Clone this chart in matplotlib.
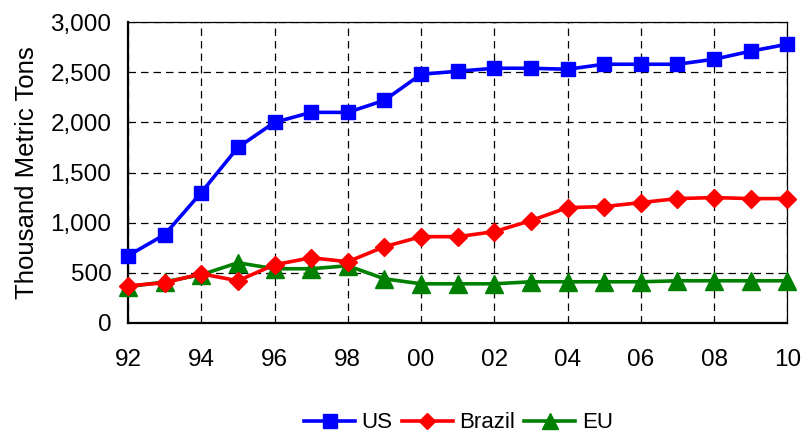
import matplotlib
matplotlib.use("Agg")
import matplotlib.pyplot as plt
from matplotlib.ticker import FuncFormatter, MultipleLocator

plt.rcParams['font.family'] = ['Liberation Sans', 'DejaVu Sans']

years = list(range(1992, 2011))
tick_labels = ["92", "94", "96", "98", "00", "02", "04", "06", "08", "10"]

us = [670, 880, 1300, 1750, 2000, 2100, 2100, 2220, 2480, 2510, 2540, 2540,
      2530, 2580, 2580, 2580, 2630, 2710, 2780]
brazil = [370, 400, 490, 420, 580, 650, 610, 760, 860, 860, 910, 1020,
          1150, 1160, 1200, 1240, 1250, 1240, 1240]
eu = [360, 410, 480, 600, 540, 540, 570, 440, 390, 390, 390, 410,
      410, 410, 410, 420, 420, 420, 420]

fig = plt.figure(figsize=(8.1, 4.34), dpi=100)
ax = fig.add_axes([0.158, 0.256, 0.814, 0.693])

ax.plot(years, us, color='#0000FF', lw=2.6, marker='s', ms=10.5, label='US', clip_on=False, zorder=5)
ax.plot(years, brazil, color='#FF0000', lw=2.6, marker='D', ms=9, label='Brazil', clip_on=False, zorder=4)
ax.plot(years, eu, color='#008000', lw=2.6, marker='^', ms=12.5, label='EU', clip_on=False, zorder=3)

ax.set_xlim(1992, 2010)
ax.set_ylim(0, 3000)
ax.set_xticks(years[::2])
ax.set_xticklabels(tick_labels)
ax.yaxis.set_major_locator(MultipleLocator(500))
ax.yaxis.set_major_formatter(FuncFormatter(lambda v, p: f"{int(v):,}"))
ax.tick_params(axis='both', length=0, labelsize=17.5, colors='black')
ax.tick_params(axis='x', pad=19)
ax.tick_params(axis='y', pad=12)

ax.grid(True, color='black', linestyle=(0, (6, 4)), linewidth=0.9)
ax.set_axisbelow(True)
for side in ['left', 'bottom']:
    ax.spines[side].set_linewidth(1.6)
for side in ['top', 'right']:
    ax.spines[side].set_linewidth(0.9)

ax.set_ylabel('Thousand Metric Tons', fontsize=18.5, labelpad=8)

fig.legend(loc='center', bbox_to_anchor=(0.566, 1 - 423 / 434), ncol=3, frameon=False,
           fontsize=16, handlelength=2.3, handletextpad=0.3, columnspacing=0.4,
           markerscale=0.9)

fig.savefig('out.png', dpi=100)
